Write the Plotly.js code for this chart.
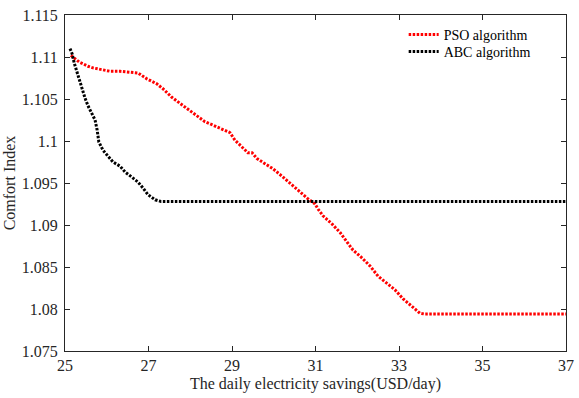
<!DOCTYPE html>
<html>
<head>
<meta charset="utf-8">
<script src="https://cdn.plot.ly/plotly-3.0.1.min.js"></script>
<style>html,body{margin:0;padding:0;background:#fff;}#chart{width:579px;height:398px;}</style>
</head>
<body>
<div id="chart"></div>
<script>
// PSO algorithm series
const psoX = [25.14, 25.24, 25.34, 25.43, 25.55, 25.67, 25.84, 26.08, 26.32, 26.56, 26.75, 26.96, 27.20, 27.35, 27.56, 27.83, 28.07, 28.35, 28.54, 28.78, 28.95, 29.07, 29.26, 29.38, 29.48, 29.60, 29.79, 29.98, 30.20, 30.39, 30.58, 30.80, 30.99, 31.06, 31.18, 31.40, 31.59, 31.78, 31.90, 32.11, 32.31, 32.50, 32.71, 32.90, 33.10, 33.31, 33.50, 33.62, 34.5, 35.5, 36.5, 37];
const psoY = [1.1102, 1.1098, 1.1094, 1.1092, 1.1089, 1.1087, 1.1085, 1.1083, 1.1083, 1.1082, 1.1081, 1.1074, 1.1068, 1.1062, 1.1052, 1.1042, 1.1033, 1.1023, 1.1019, 1.1014, 1.1010, 1.1001, 1.0992, 1.0986, 1.0986, 1.0979, 1.0973, 1.0967, 1.0958, 1.0950, 1.0941, 1.0932, 1.0925, 1.0919, 1.0911, 1.0901, 1.0891, 1.0879, 1.0870, 1.0861, 1.0851, 1.0839, 1.0831, 1.0823, 1.0812, 1.0803, 1.0795, 1.0794, 1.0794, 1.0794, 1.0794, 1.0794];
// ABC algorithm series
const abcX = [25.12, 25.17, 25.22, 25.29, 25.34, 25.41, 25.48, 25.55, 25.65, 25.72, 25.77, 25.81, 25.91, 26.03, 26.15, 26.32, 26.44, 26.60, 26.75, 26.87, 26.99, 27.16, 27.3, 28.5, 30, 32, 34, 36, 37];
const abcY = [1.1110, 1.1104, 1.1093, 1.1081, 1.1073, 1.1062, 1.1051, 1.1042, 1.1033, 1.1025, 1.1013, 1.0999, 1.0989, 1.0982, 1.0975, 1.0970, 1.0963, 1.0957, 1.0951, 1.0944, 1.0936, 1.0930, 1.0928, 1.0928, 1.0928, 1.0928, 1.0928, 1.0928, 1.0928];
const seriesNames = ["PSO algorithm", "ABC algorithm"];
const xTickVals = [25, 27, 29, 31, 33, 35, 37];
const yTickVals = [1.075, 1.08, 1.085, 1.09, 1.095, 1.1, 1.105, 1.11, 1.115];
const yTickText = ["1.075", "1.08", "1.085", "1.09", "1.095", "1.1", "1.105", "1.11", "1.115"];

const font = "Liberation Serif, Times New Roman, serif";
const traces = [
  {x: psoX, y: psoY, name: seriesNames[0], mode: "lines", legend: "legend",
   line: {color: "#ff0000", width: 3, dash: "2.5px,1.5px"}},
  {x: abcX, y: abcY, name: seriesNames[1], mode: "lines", legend: "legend2",
   line: {color: "#000000", width: 3, dash: "2.5px,1.5px"}}
];
const axisCommon = {
  showline: true, linecolor: "#262626", linewidth: 1, mirror: "ticks",
  ticks: "inside", ticklen: 5, tickwidth: 1, tickcolor: "#262626",
  showgrid: false, zeroline: false,
  tickfont: {family: font, size: 16, color: "#262626"}
};
const legendCommon = {
  x: 0.676, xanchor: "left", yanchor: "middle",
  bgcolor: "rgba(0,0,0,0)", borderwidth: 0,
  font: {family: font, size: 14, color: "#000"}, itemwidth: 30
};
const layout = {
  width: 579, height: 398,
  margin: {l: 65, r: 13, t: 15, b: 47},
  paper_bgcolor: "#ffffff", plot_bgcolor: "#ffffff",
  showlegend: true,
  legend: Object.assign({}, legendCommon, {y: 0.9405}),
  legend2: Object.assign({}, legendCommon, {y: 0.8899}),
  xaxis: Object.assign({}, axisCommon, {
    range: [25, 37], tickvals: xTickVals,
    title: {text: "The daily electricity savings(USD/day)", standoff: 4,
            font: {family: font, size: 16, color: "#262626"}}
  }),
  yaxis: Object.assign({}, axisCommon, {
    range: [1.075, 1.115], tickvals: yTickVals, ticktext: yTickText,
    ticklabelstandoff: 3,
    title: {text: "Comfort Index", standoff: 2,
            font: {family: font, size: 16, color: "#262626"}}
  })
};
Plotly.newPlot("chart", traces, layout, {displayModeBar: false, staticPlot: true});
</script>
</body>
</html>
